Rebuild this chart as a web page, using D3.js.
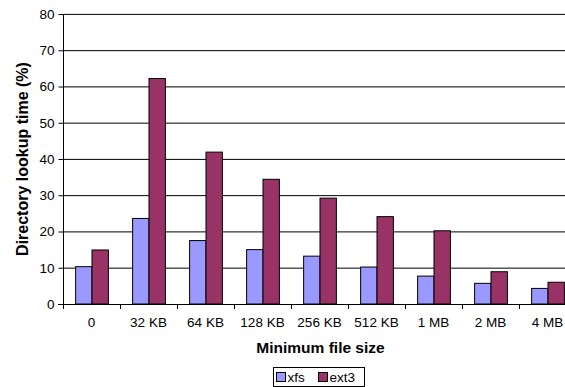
<!DOCTYPE html>
<html>
<head>
<meta charset="utf-8">
<script src="https://cdn.jsdelivr.net/npm/d3@7/dist/d3.min.js"></script>
<style>
  html, body { margin: 0; padding: 0; background: #fff; }
  svg { display: block; font-family: Arial, "Liberation Sans", sans-serif; }
</style>
</head>
<body>
<svg id="chart" width="565" height="387"></svg>
<script>
// Directory lookup time by minimum file size
const categories = ["0", "32 KB", "64 KB", "128 KB", "256 KB", "512 KB", "1 MB", "2 MB", "4 MB"];
const seriesNames = ["xfs", "ext3"];
const xfsValues  = [10.3, 23.6, 17.5, 15.0, 13.2, 10.2, 7.7, 5.7, 4.3];
const ext3Values = [14.9, 62.2, 41.9, 34.4, 29.2, 24.1, 20.2, 8.9, 6.0];
const yTicks = [0, 10, 20, 30, 40, 50, 60, 70, 80];
const colors = ["#9999FF", "#993366"];

const svg = d3.select("#chart");
const plotLeft = 63, plotRight = 576, plotTop = 14, plotBottom = 304;
const tickFont = 13.5, titleFont = 15.5;

const x = d3.scaleBand().domain(categories).range([plotLeft, plotRight]).paddingInner(0).paddingOuter(0);
const inner = d3.scaleBand().domain(seriesNames).range([0, x.bandwidth()]).paddingInner(0).paddingOuter(0.74);
const y = d3.scaleLinear().domain([0, 80]).range([plotBottom, plotTop]);

// horizontal gridlines
svg.append("g")
  .selectAll("line")
  .data(yTicks.filter(d => d > 0))
  .join("line")
  .attr("x1", plotLeft).attr("x2", plotRight)
  .attr("y1", d => y(d) + 0.4).attr("y2", d => y(d) + 0.4)
  .attr("stroke", "#000").attr("stroke-width", 1);

// bars
const rows = categories.map((c, i) => ({ c, vals: [xfsValues[i], ext3Values[i]] }));
const groups = svg.append("g").selectAll("g")
  .data(rows).join("g")
  .attr("transform", d => `translate(${x(d.c)},0)`);
groups.selectAll("rect")
  .data(d => d.vals.map((v, k) => ({ k, v })))
  .join("rect")
  .attr("x", d => inner(seriesNames[d.k]) + 0.5)
  .attr("width", inner.bandwidth())
  .attr("y", d => y(d.v))
  .attr("height", d => y(0) - y(d.v))
  .attr("fill", d => colors[d.k])
  .attr("stroke", "#000").attr("stroke-width", 1);

// y axis
const yAxis = svg.append("g")
  .attr("transform", `translate(${plotLeft + 0.5},0)`)
  .call(d3.axisLeft(y).tickValues(yTicks).tickSize(5).tickPadding(4).tickFormat(d3.format("d")));
yAxis.select(".domain").attr("stroke", "#000").attr("d", `M0,${plotTop}V${plotBottom}`);
yAxis.selectAll(".tick line").attr("stroke", "#000");
yAxis.selectAll("text").attr("font-size", tickFont).attr("fill", "#000")
  .attr("font-family", "Arial, 'Liberation Sans', sans-serif");

// x axis
const xAxis = svg.append("g")
  .attr("transform", `translate(0,${plotBottom + 0.5})`)
  .call(d3.axisBottom(x).tickSize(0).tickPadding(13));
xAxis.select(".domain").attr("stroke", "#000").attr("d", `M${plotLeft - 5},0H${plotRight}`);
xAxis.selectAll("text").attr("font-size", tickFont).attr("fill", "#000")
  .attr("font-family", "Arial, 'Liberation Sans', sans-serif");
// tick marks at category boundaries
svg.append("g").selectAll("line")
  .data(categories)
  .join("line")
  .attr("x1", d => Math.round(x(d)) + 0.5).attr("x2", d => Math.round(x(d)) + 0.5)
  .attr("y1", plotBottom).attr("y2", plotBottom + 5)
  .attr("stroke", "#000");

// axis titles
svg.append("text")
  .attr("x", 320.5).attr("y", 353)
  .attr("text-anchor", "middle")
  .attr("font-size", titleFont).attr("font-weight", "bold")
  .text("Minimum file size");
svg.append("text")
  .attr("transform", "translate(27.5,159) rotate(-90)")
  .attr("text-anchor", "middle")
  .attr("font-size", 16).attr("font-weight", "bold")
  .text("Directory lookup time (%)");

// legend
const lg = svg.append("g").attr("transform", "translate(273.5,367.5)");
lg.append("rect").attr("width", 91).attr("height", 19)
  .attr("fill", "#fff").attr("stroke", "#000");
const items = [{ name: "xfs", x: 3, tx: 14 }, { name: "ext3", x: 45, tx: 56 }];
items.forEach((it, k) => {
  lg.append("rect").attr("x", it.x).attr("y", 5).attr("width", 9).attr("height", 9)
    .attr("fill", colors[k]).attr("stroke", "#000");
  lg.append("text").attr("x", it.tx).attr("y", 14.5)
    .attr("font-size", tickFont).text(it.name);
});
</script>
</body>
</html>
